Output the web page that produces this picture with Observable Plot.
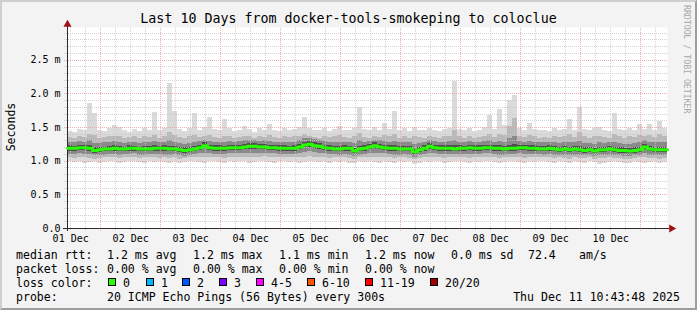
<!DOCTYPE html>
<html><head><meta charset="utf-8">
<script src="https://cdn.jsdelivr.net/npm/d3@7"></script>
<script src="https://cdn.jsdelivr.net/npm/@observablehq/plot@0.6"></script>
<style>
html,body{margin:0;padding:0;background:#f3f3f3}
#wrap{position:relative;width:697px;height:310px;background:#f3f3f3;overflow:hidden;font-family:"DejaVu Sans Mono",monospace;color:#000}
#chart{position:absolute;left:0;top:0}
.t{position:absolute;white-space:pre;font-size:11.56px;line-height:14px;height:14px}
.box{position:absolute;width:6px;height:6px;border:1px solid #000}
#title{position:absolute;left:0;top:11px;width:697px;text-align:center;font-size:13.3px;line-height:16px;white-space:pre}
#ylab{position:absolute;left:11px;top:127px;transform:translate(-50%,-50%) rotate(-90deg);font-size:11.56px;white-space:pre;line-height:14px}
#wm{position:absolute;left:687px;top:5px;transform-origin:0 0;transform:translate(4px,0) rotate(90deg);font-size:8.2px;color:#a8a8a8;white-space:pre;line-height:9px}
#frame{position:absolute;left:0;top:0;width:697px;height:310px;box-sizing:border-box;border-top:2px solid #cfcfcf;border-left:2px solid #cfcfcf;border-bottom:2px solid #9e9e9e;border-right:2px solid #9e9e9e;pointer-events:none}
</style></head>
<body>
<div id="wrap">
  <div id="chart"></div>
  <div id="title">Last 10 Days from docker-tools-smokeping to coloclue</div>
  <div id="ylab">Seconds</div>
  <div id="wm">RRDTOOL / TOBI OETIKER</div>
  <div id="legend"></div>
  <div id="frame"></div>
</div>
<script>
// ---- data (milliseconds), one value per 2-hour column, 120 columns over 10 days ----
const med = [1.19,1.19,1.20,1.20,1.19,1.16,1.17,1.18,1.18,1.19,
 1.18,1.18,1.19,1.19,1.18,1.18,1.18,1.19,1.19,1.19,
 1.18,1.18,1.17,1.16,1.17,1.18,1.20,1.23,1.20,1.19,
 1.19,1.19,1.20,1.20,1.20,1.21,1.22,1.22,1.21,1.21,
 1.20,1.20,1.19,1.19,1.19,1.19,1.21,1.24,1.25,1.23,
 1.22,1.20,1.19,1.18,1.18,1.19,1.19,1.15,1.18,1.19,
 1.21,1.23,1.21,1.20,1.19,1.19,1.18,1.18,1.18,1.14,
 1.17,1.19,1.22,1.20,1.19,1.19,1.19,1.18,1.19,1.19,
 1.20,1.19,1.19,1.20,1.20,1.19,1.19,1.18,1.19,1.19,
 1.20,1.20,1.19,1.19,1.18,1.18,1.19,1.18,1.17,1.18,
 1.17,1.18,1.17,1.16,1.17,1.15,1.17,1.17,1.18,1.17,
 1.16,1.16,1.15,1.16,1.17,1.21,1.18,1.17,1.17,1.17];
const hi1 = [1.44,1.42,1.47,1.45,1.85,1.71,1.46,1.44,1.48,1.53,
 1.50,1.45,1.43,1.47,1.44,1.49,1.46,1.72,1.45,1.49,
 2.16,1.74,1.47,1.44,1.48,1.71,1.46,1.50,1.65,1.47,
 1.45,1.62,1.48,1.44,1.46,1.52,1.47,1.43,1.49,1.45,
 1.55,1.46,1.44,1.48,1.45,1.47,1.50,1.65,1.49,1.46,
 1.45,1.48,1.44,1.47,1.52,1.46,1.45,1.49,1.80,1.47,
 1.45,1.50,1.46,1.56,1.47,1.74,1.45,1.48,1.44,1.50,
 1.46,1.45,1.48,1.46,1.44,1.47,1.49,2.18,1.47,1.45,
 1.48,1.44,1.46,1.50,1.68,1.47,1.76,1.53,1.90,1.98,
 1.49,1.46,1.56,1.47,1.45,1.46,1.44,1.48,1.45,1.47,
 1.62,1.46,1.80,1.47,1.45,1.48,1.50,1.46,1.44,1.71,
 1.47,1.45,1.48,1.46,1.55,1.47,1.55,1.46,1.59,1.48];
const lo1 = [0.99,0.98,1.00,0.97,0.98,0.99,0.96,0.98,1.00,0.99,
 0.97,0.98,0.99,1.00,0.98,0.97,0.99,0.98,1.00,0.98,
 0.97,0.99,0.96,0.98,1.00,0.99,0.98,0.97,0.99,1.00,
 0.98,0.97,0.99,0.98,1.00,0.99,0.97,0.98,1.00,0.99,
 0.98,0.97,0.99,1.00,0.98,0.99,0.97,0.98,1.00,0.99,
 0.98,0.99,0.97,1.00,0.98,0.99,0.96,0.97,0.99,0.98,
 1.00,0.98,0.97,0.99,0.98,0.96,0.99,0.98,1.00,0.95,
 0.97,0.99,0.98,1.00,0.99,0.97,0.98,0.99,1.00,0.98,
 0.97,0.99,0.98,1.00,0.99,0.98,0.96,0.98,0.99,1.00,
 0.98,0.97,0.99,0.98,1.00,0.99,0.98,0.97,0.99,0.98,
 0.96,0.99,0.98,0.97,0.99,0.98,0.95,0.97,0.98,0.99,
 0.98,0.96,0.97,0.99,0.98,0.97,0.98,0.99,0.97,0.98];
const hi2 = [1.35,1.34,1.36,1.35,1.40,1.38,1.34,1.35,1.36,1.37,
 1.36,1.34,1.35,1.36,1.34,1.37,1.35,1.38,1.34,1.36,
 1.42,1.38,1.35,1.34,1.36,1.38,1.35,1.37,1.38,1.35,
 1.34,1.37,1.36,1.34,1.35,1.37,1.36,1.34,1.36,1.35,
 1.38,1.35,1.34,1.36,1.35,1.36,1.37,1.40,1.37,1.35,
 1.34,1.36,1.35,1.36,1.38,1.35,1.34,1.36,1.41,1.35,
 1.34,1.37,1.35,1.38,1.36,1.39,1.34,1.36,1.34,1.37,
 1.35,1.34,1.36,1.35,1.34,1.36,1.37,1.45,1.36,1.34,
 1.36,1.34,1.35,1.37,1.39,1.35,1.40,1.38,1.52,1.64,
 1.37,1.35,1.38,1.36,1.34,1.35,1.34,1.36,1.35,1.36,
 1.39,1.35,1.42,1.36,1.34,1.36,1.37,1.35,1.34,1.40,
 1.36,1.34,1.36,1.35,1.38,1.36,1.38,1.35,1.39,1.36];
const lo2 = [1.05,1.04,1.06,1.05,1.04,1.03,1.04,1.05,1.06,1.05,
 1.04,1.05,1.06,1.05,1.04,1.05,1.06,1.05,1.04,1.05,
 1.04,1.05,1.03,1.04,1.05,1.06,1.05,1.06,1.05,1.06,
 1.05,1.04,1.06,1.05,1.06,1.05,1.06,1.05,1.06,1.07,
 1.06,1.05,1.05,1.06,1.05,1.06,1.05,1.06,1.07,1.06,
 1.05,1.06,1.04,1.05,1.05,1.06,1.04,1.03,1.05,1.05,
 1.06,1.05,1.05,1.06,1.05,1.04,1.05,1.05,1.04,1.02,
 1.04,1.05,1.06,1.05,1.05,1.04,1.05,1.06,1.05,1.05,
 1.04,1.05,1.05,1.06,1.05,1.05,1.04,1.05,1.05,1.06,
 1.05,1.04,1.05,1.05,1.06,1.05,1.05,1.04,1.05,1.04,
 1.03,1.05,1.04,1.04,1.05,1.03,1.04,1.04,1.05,1.04,
 1.04,1.03,1.03,1.04,1.05,1.05,1.04,1.04,1.03,1.04];
const hi3 = [1.27,1.28,1.29,1.28,1.30,1.26,1.26,1.27,1.28,1.29,
 1.27,1.26,1.28,1.27,1.26,1.28,1.27,1.29,1.27,1.28,
 1.30,1.28,1.26,1.25,1.26,1.28,1.29,1.31,1.29,1.28,
 1.27,1.28,1.29,1.28,1.29,1.30,1.30,1.31,1.29,1.30,
 1.29,1.28,1.27,1.28,1.27,1.28,1.30,1.33,1.33,1.32,
 1.30,1.29,1.28,1.27,1.28,1.28,1.27,1.26,1.30,1.28,
 1.29,1.31,1.30,1.29,1.28,1.29,1.27,1.28,1.27,1.25,
 1.26,1.28,1.30,1.29,1.28,1.28,1.29,1.31,1.28,1.27,
 1.29,1.28,1.27,1.29,1.30,1.28,1.29,1.28,1.33,1.36,
 1.29,1.28,1.29,1.28,1.27,1.27,1.28,1.27,1.26,1.27,
 1.28,1.27,1.29,1.26,1.26,1.25,1.27,1.26,1.27,1.28,
 1.26,1.25,1.25,1.26,1.27,1.30,1.28,1.27,1.28,1.27];
const lo3 = [1.10,1.10,1.11,1.10,1.10,1.08,1.08,1.09,1.10,1.10,
 1.09,1.10,1.10,1.11,1.09,1.09,1.10,1.10,1.10,1.09,
 1.09,1.10,1.08,1.07,1.08,1.10,1.11,1.12,1.11,1.10,
 1.10,1.10,1.11,1.11,1.11,1.11,1.12,1.12,1.12,1.12,
 1.11,1.11,1.10,1.10,1.10,1.10,1.11,1.13,1.14,1.13,
 1.12,1.11,1.10,1.10,1.09,1.10,1.09,1.07,1.09,1.10,
 1.11,1.12,1.11,1.11,1.10,1.09,1.09,1.10,1.09,1.06,
 1.08,1.10,1.12,1.11,1.10,1.10,1.10,1.10,1.10,1.10,
 1.10,1.10,1.10,1.11,1.11,1.10,1.09,1.09,1.10,1.10,
 1.11,1.10,1.10,1.10,1.10,1.09,1.10,1.09,1.09,1.09,
 1.08,1.09,1.08,1.08,1.09,1.07,1.08,1.08,1.09,1.08,
 1.08,1.07,1.07,1.08,1.08,1.11,1.09,1.08,1.08,1.08];
const hi4 = [1.23,1.22,1.24,1.23,1.23,1.20,1.21,1.21,1.22,1.23,
 1.22,1.21,1.23,1.22,1.21,1.22,1.22,1.23,1.22,1.23,
 1.22,1.22,1.21,1.20,1.21,1.22,1.24,1.27,1.24,1.23,
 1.23,1.22,1.24,1.23,1.24,1.25,1.26,1.26,1.25,1.25,
 1.24,1.24,1.23,1.23,1.22,1.23,1.25,1.28,1.29,1.27,
 1.26,1.24,1.23,1.22,1.22,1.23,1.22,1.19,1.22,1.23,
 1.25,1.27,1.25,1.24,1.23,1.23,1.22,1.22,1.22,1.18,
 1.21,1.23,1.26,1.24,1.23,1.23,1.23,1.23,1.23,1.22,
 1.24,1.23,1.23,1.24,1.24,1.23,1.23,1.22,1.24,1.25,
 1.24,1.24,1.23,1.23,1.22,1.22,1.23,1.22,1.21,1.22,
 1.21,1.22,1.22,1.20,1.21,1.19,1.21,1.21,1.22,1.21,
 1.20,1.20,1.19,1.20,1.21,1.25,1.22,1.21,1.21,1.21];
const lo4 = [1.15,1.15,1.16,1.16,1.15,1.12,1.13,1.14,1.14,1.15,
 1.14,1.14,1.15,1.15,1.14,1.14,1.14,1.15,1.15,1.15,
 1.14,1.14,1.13,1.12,1.13,1.14,1.16,1.19,1.16,1.15,
 1.15,1.15,1.16,1.16,1.16,1.17,1.18,1.18,1.17,1.17,
 1.16,1.16,1.15,1.15,1.15,1.15,1.17,1.20,1.21,1.19,
 1.18,1.16,1.15,1.14,1.14,1.15,1.15,1.11,1.14,1.15,
 1.17,1.19,1.17,1.16,1.15,1.15,1.14,1.14,1.14,1.10,
 1.13,1.15,1.18,1.16,1.15,1.15,1.15,1.14,1.15,1.15,
 1.16,1.15,1.15,1.16,1.16,1.15,1.15,1.14,1.15,1.15,
 1.16,1.16,1.15,1.15,1.14,1.14,1.15,1.14,1.13,1.14,
 1.13,1.14,1.13,1.12,1.13,1.11,1.13,1.13,1.14,1.13,
 1.12,1.12,1.11,1.12,1.13,1.17,1.14,1.13,1.13,1.13];

const yTicks = [0, 0.5, 1.0, 1.5, 2.0, 2.5];
const yTickLabels = ["0.0", "0.5 m", "1.0 m", "1.5 m", "2.0 m", "2.5 m"];
const dayNums = [1,2,3,4,5,6,7,8,9,10];
const xTickLabels = ["01 Dec","02 Dec","03 Dec","04 Dec","05 Dec","06 Dec","07 Dec","08 Dec","09 Dec","10 Dec"];

const lossLabels = ["0","1","2","3","4-5","6-10","11-19","20/20"];
const lossColors = ["#26ff00","#00b8ff","#0059ff","#7e00ff","#ff00ff","#ff5500","#ff0000","#a10000"];

const statRows = [
  ["median rtt:", "1.2 ms avg", "1.2 ms max", "1.1 ms min", "1.2 ms now", "0.0 ms sd", "72.4", "am/s"],
  ["packet loss:", "0.00 % avg", "0.00 % max", "0.00 % min", "0.00 % now"]
];
const probeText = "20 ICMP Echo Pings (56 Bytes) every 300s";
const stampText = "Thu Dec 11 10:43:48 2025";

// ---- build ----
const t0 = Date.UTC(2025, 11, 1, 10, 43, 48);
const tEnd = t0 + 240 * 3600e3;
const step = (tEnd - t0) / med.length;
const px = (tEnd - t0) / 600; // time per pixel
const yMax = 2.985;

const cols = med.map((m, i) => ({
  a: new Date(t0 + i * step), b: new Date(t0 + (i + 1) * step), med: m,
  lo1: lo1[i], hi1: hi1[i], lo2: lo2[i], hi2: hi2[i], lo3: lo3[i], hi3: hi3[i], lo4: lo4[i], hi4: hi4[i]
}));
const line = cols.map(c => ({t: c.a, v: c.med}));
line.push({t: cols[cols.length - 1].b, v: med[med.length - 1]});

const xTicks = dayNums.map(d => new Date(Date.UTC(2025, 11, d, 12)));
const h6 = d3.utcHour.every(6).range(new Date(t0 + 1), new Date(tEnd));
const minorX = h6.filter(d => d.getUTCHours() !== 0);
const majorX = h6.filter(d => d.getUTCHours() === 0);
const minorY = d3.range(1, 30).filter(i => i % 5 !== 0).map(i => i / 10);
const majorY = [0.5, 1.0, 1.5, 2.0, 2.5];
const leftTick = new Date(t0 - 3 * px);

const band = (lo, hi, fill) => Plot.rect(cols, {x1: "a", x2: "b", y1: lo, y2: hi, fill, shapeRendering: "crispEdges"});

const chart = Plot.plot({
  width: 697, height: 310,
  marginLeft: 67, marginRight: 30, marginTop: 27, marginBottom: 82,
  style: {fontFamily: "DejaVu Sans Mono", fontSize: "10px", background: "transparent", color: "#000", overflow: "visible"},
  x: {type: "utc", domain: [new Date(t0), new Date(tEnd)], ticks: xTicks,
      tickFormat: d => xTickLabels[dayNums.indexOf(d.getUTCDate())], tickSize: 0, tickPadding: 6, label: null},
  y: {domain: [0, yMax], ticks: yTicks, tickFormat: d => yTickLabels[yTicks.indexOf(d)], tickSize: 0, tickPadding: 7, label: null},
  marks: [
    Plot.frame({fill: "#ffffff", stroke: "none"}),
    band("lo1", "hi1", "#dadada"),
    band("lo2", "hi2", "#b9b9b9"),
    band("lo3", "hi3", "#8a8a8a"),
    band("lo4", "hi4", "#4e4e4e"),
    Plot.ruleY(minorY, {x1: leftTick, x2: new Date(tEnd), stroke: "#c8c8c8", strokeOpacity: 0.8, strokeDasharray: "1,1", shapeRendering: "crispEdges"}),
    Plot.ruleX(minorX, {y1: -0.03, y2: yMax, stroke: "#c8c8c8", strokeOpacity: 0.8, strokeDasharray: "1,1", shapeRendering: "crispEdges"}),
    Plot.ruleY(majorY, {x1: leftTick, x2: new Date(tEnd), stroke: "#ee9a9a", strokeOpacity: 0.8, strokeDasharray: "1,1", shapeRendering: "crispEdges"}),
    Plot.ruleX(majorX, {y1: -0.045, y2: yMax, stroke: "#ee9a9a", strokeOpacity: 0.8, strokeDasharray: "1,1", shapeRendering: "crispEdges"}),
    Plot.ruleY([0], {x1: new Date(t0 - 4 * px), x2: new Date(tEnd + 2 * px), stroke: "#2a2a2a", shapeRendering: "crispEdges"}),
    Plot.ruleX([new Date(t0)], {y1: -0.05, y2: yMax + 0.02, stroke: "#2a2a2a", shapeRendering: "crispEdges"}),
    Plot.dot([{t: new Date(tEnd), v: 0}], {x: "t", y: "v", symbol: "triangle", rotate: 90, r: 3, fill: "#a01010", stroke: "none", dx: 4}),
    Plot.dot([{t: new Date(t0), v: yMax}], {x: "t", y: "v", symbol: "triangle", r: 3, fill: "#a01010", stroke: "none", dy: -3}),
    Plot.line(line, {x: "t", y: "v", curve: "step-after", stroke: "#26ff00", strokeWidth: 3})
  ]
});
document.getElementById("chart").appendChild(chart);

// ---- legend (text) ----
const legend = document.getElementById("legend");
function txt(s, left, cy) {
  const d = document.createElement("div");
  d.className = "t"; d.textContent = s;
  d.style.left = left + "px"; d.style.top = (cy - 7) + "px";
  legend.appendChild(d); return d;
}
const statX = [16, 107, 193, 279, 365, 451, 528, 579];
statRows.forEach((row, r) => row.forEach((s, j) => txt(s, statX[j], 254.5 + 14 * r)));
txt("loss color:", 16, 282.5);
const boxX = [108, 146, 182, 219, 256, 307, 365, 430];
lossLabels.forEach((s, i) => {
  const b = document.createElement("div");
  b.className = "box"; b.style.left = boxX[i] + "px"; b.style.top = "278px";
  b.style.background = lossColors[i];
  legend.appendChild(b);
  txt(s, boxX[i] + 15, 282.5);
});
txt("probe:", 16, 296.5);
txt(probeText, 107, 296.5);
const st = txt(stampText, 0, 296.5);
st.style.left = (680 - st.getBoundingClientRect().width) + "px";
</script>
</body></html>
